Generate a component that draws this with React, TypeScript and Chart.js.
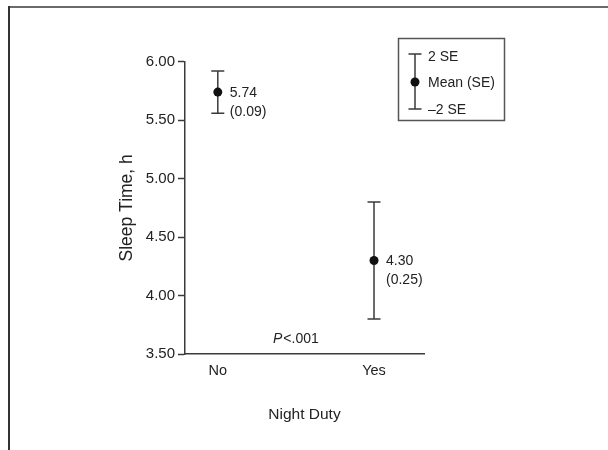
import React, { useEffect, useRef } from "react";
import { Chart, registerables } from "chart.js";

Chart.register(...registerables);

const categories = ["No", "Yes"];
const means = [5.74, 4.3];
const standardErrors = [0.09, 0.25];
const yTicks = [3.5, 4.0, 4.5, 5.0, 5.5, 6.0];
const pValueText = ["P", "<.001"];
const legendLabels = ["2 SE", "Mean (SE)", "\u20132 SE"];
const xTitle = "Night Duty";
const yTitle = "Sleep Time, h";

const FONT = "'Liberation Sans', Arial, sans-serif";
const INK = "#222";
const LINE = "#3a3a3a";

const framePlugin = {
  id: "frame",
  beforeDraw(chart: any) {
    const { ctx } = chart;
    ctx.save();
    ctx.fillStyle = "#fff";
    ctx.fillRect(0, 0, chart.width, chart.height);
    ctx.fillStyle = "#6a6a6a";
    ctx.fillRect(8, 6, chart.width - 8, 2);
    ctx.fillStyle = "#333";
    ctx.fillRect(8, 6, 2, chart.height - 6);
    ctx.restore();
  },
};

const annotPlugin = {
  id: "annot",
  afterDatasetsDraw(chart: any) {
    const { ctx, chartArea } = chart;
    const xs = chart.scales.x;
    const ys = chart.scales.y;
    ctx.save();
    ctx.fillStyle = INK;
    ctx.textBaseline = "middle";
    ctx.textAlign = "left";
    ctx.font = `14px ${FONT}`;
    categories.forEach((_, i) => {
      const px = xs.getPixelForValue(i) + 12;
      const py = ys.getPixelForValue(means[i]);
      ctx.fillText(means[i].toFixed(2), px, py + 1);
      ctx.fillText(`(${standardErrors[i].toFixed(2)})`, px, py + 20);
    });
    // P value
    ctx.font = `italic 14px ${FONT}`;
    const w1 = ctx.measureText(pValueText[0]).width;
    ctx.font = `14px ${FONT}`;
    const w2 = ctx.measureText(pValueText[1]).width;
    const cx = xs.getPixelForValue(0.5);
    const startX = cx - (w1 + w2 + 1) / 2;
    const py = chartArea.bottom - 15;
    ctx.font = `italic 14px ${FONT}`;
    ctx.fillText(pValueText[0], startX, py);
    ctx.font = `14px ${FONT}`;
    ctx.fillText(pValueText[1], startX + w1 + 1, py);

    // legend box
    const bx = 398.5, by = 38.5, bw = 106, bh = 82;
    ctx.strokeStyle = "#555";
    ctx.lineWidth = 1.5;
    ctx.strokeRect(bx, by, bw, bh);
    const lx = 415;
    const yTop = 54, yMid = 82, yBot = 109;
    ctx.strokeStyle = LINE;
    ctx.lineWidth = 1.5;
    ctx.beginPath();
    ctx.moveTo(lx, yTop);
    ctx.lineTo(lx, yBot);
    ctx.moveTo(lx - 6.5, yTop);
    ctx.lineTo(lx + 6.5, yTop);
    ctx.moveTo(lx - 6.5, yBot);
    ctx.lineTo(lx + 6.5, yBot);
    ctx.stroke();
    ctx.fillStyle = "#111";
    ctx.beginPath();
    ctx.arc(lx, yMid, 4.5, 0, Math.PI * 2);
    ctx.fill();
    ctx.fillStyle = INK;
    ctx.font = `14px ${FONT}`;
    ctx.fillText(legendLabels[0], 428, 57);
    ctx.fillText(legendLabels[1], 428, 83);
    ctx.fillText(legendLabels[2], 428, 110);
    ctx.restore();
  },
};

export default function App() {
  const ref = useRef<HTMLCanvasElement | null>(null);
  useEffect(() => {
    if (!ref.current) return;
    const errorSets = categories.map((_, i) => ({
      type: "line" as const,
      data: [
        { x: i, y: means[i] - 2 * standardErrors[i] },
        { x: i, y: means[i] + 2 * standardErrors[i] },
      ],
      showLine: true,
      borderColor: LINE,
      borderWidth: 1.5,
      pointStyle: "line" as const,
      pointRadius: 6.5,
      pointBorderColor: LINE,
      pointBorderWidth: 1.5,
      pointHoverRadius: 6.5,
      fill: false,
    }));
    const chart = new Chart(ref.current, {
      type: "scatter",
      data: {
        datasets: [
          {
            data: categories.map((_, i) => ({ x: i, y: means[i] })),
            pointRadius: 4.5,
            pointHoverRadius: 4.5,
            backgroundColor: "#111",
            borderWidth: 0,
          } as any,
          ...errorSets,
        ],
      },
      options: {
        animation: false,
        responsive: false,
        events: [],
        layout: { padding: { left: 117, right: 184, top: 61.7, bottom: 26.4 } },
        plugins: { legend: { display: false }, tooltip: { enabled: false } },
        scales: {
          x: {
            type: "linear",
            min: -0.21,
            max: 1.32,
            afterBuildTicks: (axis: any) => {
              axis.ticks = categories.map((_, i) => ({ value: i }));
            },
            afterFit: (s: any) => {
              s.height = 69.6;
            },
            ticks: {
              callback: (v: any) => categories[Math.round(Number(v))] ?? "",
              font: { family: FONT, size: 14.5 },
              color: INK,
              padding: 8,
              maxRotation: 0,
              autoSkip: false,
            },
            grid: { drawOnChartArea: false, drawTicks: false },
            border: { color: LINE, width: 1.5 },
            title: {
              display: true,
              text: xTitle,
              font: { family: FONT, size: 15.5 },
              color: INK,
              padding: { top: 0, bottom: 0 },
            },
          },
          y: {
            type: "linear",
            min: 3.5,
            max: 6.0,
            afterBuildTicks: (axis: any) => {
              axis.ticks = yTicks.map((v) => ({ value: v }));
            },
            afterFit: (s: any) => {
              s.width = 68;
            },
            ticks: {
              callback: (v: any) => Number(v).toFixed(2),
              font: { family: FONT, size: 15 },
              color: INK,
              padding: 3,
            },
            grid: {
              drawOnChartArea: false,
              drawTicks: true,
              tickLength: 7,
              tickWidth: 1.5,
              tickColor: LINE,
            },
            border: { color: LINE, width: 1.5 },
            title: {
              display: true,
              text: yTitle,
              font: { family: FONT, size: 17.5 },
              color: INK,
              padding: { top: 0, bottom: 0 },
            },
          },
        },
      },
      plugins: [framePlugin, annotPlugin],
    } as any);
    return () => chart.destroy();
  }, []);
  return (
    <div style={{ position: "absolute", left: 0, top: 0, width: 608, height: 450 }}>
      <canvas ref={ref} width={608} height={450} />
    </div>
  );
}
